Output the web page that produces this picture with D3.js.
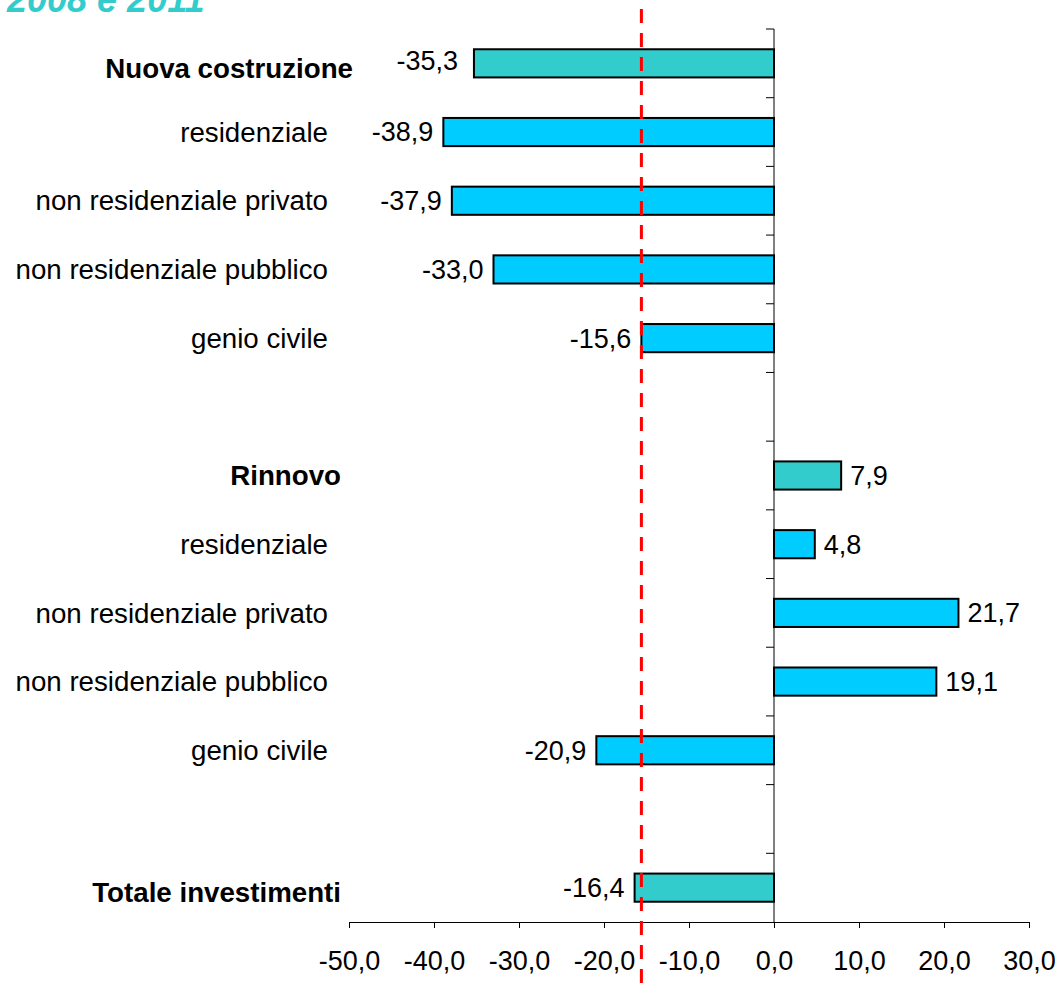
<!DOCTYPE html>
<html>
<head>
<meta charset="utf-8">
<script src="https://cdn.jsdelivr.net/npm/d3@7"></script>
<style>
  html, body { margin: 0; padding: 0; background: #fff; }
  svg { display: block; font-family: "Liberation Sans", Arial, sans-serif; }
</style>
</head>
<body>
<svg id="chart" width="1062" height="989"></svg>
<script>
// ---- data ----
const titleText = "2008 e 2011";
const categories = [
  "Nuova costruzione", "residenziale", "non residenziale privato", "non residenziale pubblico", "genio civile",
  "gap1",
  "Rinnovo", "residenziale ", "non residenziale privato ", "non residenziale pubblico ", "genio civile ",
  "gap2",
  "Totale investimenti"
];
const labels = [
  "Nuova costruzione", "residenziale", "non residenziale privato", "non residenziale pubblico", "genio civile",
  "",
  "Rinnovo", "residenziale", "non residenziale privato", "non residenziale pubblico", "genio civile",
  "",
  "Totale investimenti"
];
const values = [-35.3, -38.9, -37.9, -33.0, -15.6, null, 7.9, 4.8, 21.7, 19.1, -20.9, null, -16.4];
const isTotal = [true, false, false, false, false, false, true, false, false, false, false, false, true];
const xTicks = [-50, -40, -30, -20, -10, 0, 10, 20, 30];
const refValue = -15.6;

// ---- layout ----
const svg = d3.select("#chart");
const fmt = v => v.toFixed(1).replace(".", ",");

const x = d3.scaleLinear().domain([-50, 30]).range([349, 1029]);
const y = d3.scaleBand().domain(categories).range([29, 922]).paddingInner(0).paddingOuter(0);
const barH = y.bandwidth() * 0.41;

// title (partially cut at top, as in the reference)
svg.append("text")
  .attr("x", 7).attr("y", 12)
  .attr("fill", "#33CCCC")
  .attr("font-size", 36).attr("font-weight", "bold").attr("font-style", "italic")
  .text(titleText);

// y axis line + ticks at band boundaries
svg.append("line")
  .attr("x1", x(0)).attr("x2", x(0))
  .attr("y1", y.range()[0]).attr("y2", y.range()[1])
  .attr("stroke", "#000").attr("stroke-width", 1);
const boundaries = categories.map(c => y(c));
svg.selectAll(".ytick").data(boundaries).enter().append("line")
  .attr("x1", x(0) - 8).attr("x2", x(0))
  .attr("y1", d => d).attr("y2", d => d)
  .attr("stroke", "#000").attr("stroke-width", 1);

// x axis
const xAxis = d3.axisBottom(x).tickValues(xTicks).tickSize(6).tickSizeOuter(0).tickFormat(fmt);
const gx = svg.append("g").attr("transform", `translate(0,922)`).call(xAxis);
gx.select(".domain").attr("stroke", "#000").attr("stroke-width", 1);
gx.selectAll(".tick line").attr("stroke", "#000").attr("stroke-width", 1);
gx.selectAll(".tick text")
  .attr("font-size", 27).attr("font-family", "Liberation Sans, Arial, sans-serif")
  .attr("fill", "#000").attr("y", 29).attr("dy", "0.71em");

// bars
const rows = categories.map((c, i) => ({ c, label: labels[i], v: values[i], total: isTotal[i] }));
const barRows = rows.filter(d => d.v !== null);
svg.selectAll(".bar").data(barRows).enter().append("rect")
  .attr("x", d => x(Math.min(0, d.v)))
  .attr("width", d => Math.abs(x(d.v) - x(0)))
  .attr("y", d => y(d.c) + (y.bandwidth() - barH) / 2)
  .attr("height", barH)
  .attr("fill", d => d.total ? "#33CCCC" : "#00CCFF")
  .attr("stroke", "#000").attr("stroke-width", 2);

// value labels
svg.selectAll(".val").data(barRows).enter().append("text")
  .attr("x", (d, i) => d.v < 0 ? x(d.v) - (i === 0 ? 16 : 10) : x(d.v) + 9)
  .attr("y", (d, i) => y(d.c) + y.bandwidth() / 2 - (i === 0 ? 3 : 0))
  .attr("dy", "0.35em")
  .attr("text-anchor", d => d.v < 0 ? "end" : "start")
  .attr("font-size", 27).attr("fill", "#000")
  .text(d => fmt(d.v));

// category labels
svg.selectAll(".cat").data(rows.filter(d => d.label)).enter().append("text")
  .attr("x", (d, i) => d.total ? (i === 0 ? 353 : 341) : 328)
  .attr("y", d => y(d.c) + y.bandwidth() / 2 + (d.total && d.c !== "Rinnovo" ? 5 : 0))
  .attr("dy", "0.35em")
  .attr("text-anchor", "end")
  .attr("font-size", 27.7)
  .attr("font-weight", d => d.total ? "bold" : "normal")
  .attr("fill", "#000")
  .text(d => d.label);

// reference dashed line
svg.append("line")
  .attr("x1", x(refValue)).attr("x2", x(refValue))
  .attr("y1", 9).attr("y2", 989)
  .attr("stroke", "#FF0000").attr("stroke-width", 3)
  .attr("stroke-dasharray", "14,10");
</script>
</body>
</html>
